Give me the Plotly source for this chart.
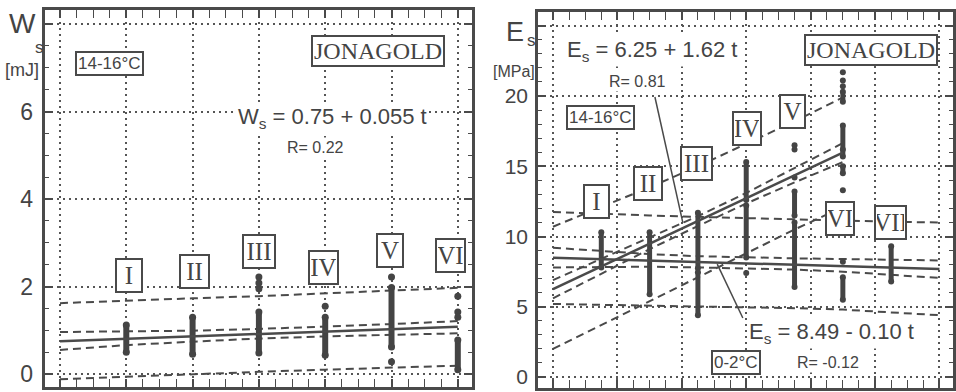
import plotly.graph_objects as go

# ---------------- data ----------------
# storage time (column positions) and roman labels
w_times = [1, 2, 3, 4, 5, 6]
w_labels = ["I", "II", "III", "IV", "V", "VI"]
e_times = [1, 2, 3, 4, 5, 6, 7]
e_labels = ["I", "II", "III", "IV", "V", "VI", "VII"]

# W_s measurements per column: dense ranges (lo, hi) and single points [mJ]
w_ranges = {1: [(0.50, 1.12)], 2: [(0.45, 1.30)], 3: [(0.48, 1.42)],
            4: [(0.43, 1.30)], 5: [(0.62, 1.98)], 6: [(0.10, 0.78)]}
w_points = {1: [], 2: [], 3: [1.95, 2.08, 2.22], 4: [1.55],
            5: [2.22, 0.28], 6: [1.78, 1.42, 1.30]}

# E_s measurements per column (both storage temperatures) [MPa]
e_ranges = {1: [(7.8, 10.3)], 2: [(5.9, 10.3)], 3: [(7.75, 11.7), (4.4, 7.45)],
            4: [(12.6, 15.3), (8.5, 12.2)], 5: [(6.4, 11.0), (11.5, 13.2)],
            6: [(19.6, 20.3), (15.7, 17.9), (14.5, 15.0), (5.5, 7.1)],
            7: [(6.8, 9.3)]}
e_points = {1: [], 2: [], 3: [], 4: [7.4], 5: [14.2, 16.2, 16.5],
            6: [21.7, 21.1, 20.7, 16.2, 13.3, 8.2], 7: []}

# regressions as printed on the chart
w_a, w_b = 0.75, 0.055            # W_s = 0.75 + 0.055 t, 14-16 C
e_hot_a, e_hot_b = 6.25, 1.62     # E_s = 6.25 + 1.62 t, 14-16 C
e_cold_a, e_cold_b = 8.49, -0.10  # E_s = 8.49 - 0.10 t, 0-2 C

# confidence (ci) and prediction (pi) bands
band_t_w = [0, 1, 2, 3, 4, 5, 6]
w_ci_hi = [0.96, 0.97, 0.99, 1.03, 1.08, 1.14, 1.21]
w_ci_lo = [0.55, 0.66, 0.74, 0.81, 0.86, 0.90, 0.93]
w_pi_hi = [1.62, 1.68, 1.73, 1.78, 1.84, 1.90, 1.97]
w_pi_lo = [-0.12, -0.06, 0.00, 0.05, 0.10, 0.15, 0.19]

band_t_hot = [0, 1, 2, 3, 4, 5, 6]
hot_ci_hi = [6.9, 8.4, 9.9, 11.45, 13.1, 14.85, 16.65]
hot_ci_lo = [5.6, 7.35, 9.1, 10.75, 12.35, 13.85, 15.3]
hot_pi_hi = [10.7, 12.1, 13.5, 15.0, 16.6, 18.2, 19.9]
hot_pi_lo = [2.0, 3.7, 5.4, 7.1, 8.8, 10.5, 12.1]

band_t_cold = [0, 1, 2, 3, 4, 5, 6, 7, 8]
cold_ci_hi = [9.2, 8.95, 8.75, 8.6, 8.5, 8.45, 8.4, 8.35, 8.3]
cold_ci_lo = [7.8, 7.85, 7.85, 7.8, 7.75, 7.65, 7.5, 7.3, 7.05]
cold_pi_hi = [11.75, 11.6, 11.5, 11.4, 11.3, 11.2, 11.1, 11.05, 11.0]
cold_pi_lo = [5.2, 5.15, 5.1, 5.05, 5.0, 4.9, 4.8, 4.6, 4.4]

# axis ticks
w_grid = [0, 2, 4, 6, 8]
w_tick_labels = [0, 2, 4, 6]
e_grid = [0, 5, 10, 15, 20, 25]
e_tick_labels = [0, 5, 10, 15, 20]

# ---------------- style ----------------
INK = "#444444"
LINE = "#4a4a4a"
SANS = "Liberation Sans, Arial, sans-serif"
SERIF = "Liberation Serif, Times New Roman, serif"
DASH = "8px,5px"

fig = go.Figure()


def add_columns(ranges, points, xa, ya, width):
    xs, ys = [], []
    for t, segs in ranges.items():
        for lo, hi in segs:
            xs += [t, t, None]
            ys += [lo, hi, None]
    fig.add_trace(go.Scatter(x=xs, y=ys, mode="lines+markers", xaxis=xa, yaxis=ya,
                             line=dict(color=INK, width=width),
                             marker=dict(color=INK, size=width + 1),
                             hoverinfo="skip", showlegend=False))
    px, py = [], []
    for t, vals in points.items():
        for v in vals:
            px.append(t)
            py.append(v)
    fig.add_trace(go.Scatter(x=px, y=py, mode="markers", xaxis=xa, yaxis=ya,
                             marker=dict(color=INK, size=width + 1),
                             hoverinfo="skip", showlegend=False))


def add_line(x, y, xa, ya, dash=None, width=2.5):
    fig.add_trace(go.Scatter(x=x, y=y, mode="lines", xaxis=xa, yaxis=ya,
                             line=dict(color=LINE, width=width, dash=dash),
                             hoverinfo="skip", showlegend=False))


# left panel: W_s
for band in (w_ci_hi, w_ci_lo, w_pi_hi, w_pi_lo):
    add_line(band_t_w, band, "x", "y", dash=DASH, width=2)
add_columns(w_ranges, w_points, "x", "y", 6)
add_line([0, 6], [w_a + w_b * 0, w_a + w_b * 6], "x", "y", width=2.5)

# right panel: E_s
for band in (hot_ci_hi, hot_ci_lo, hot_pi_hi, hot_pi_lo):
    add_line(band_t_hot, band, "x2", "y2", dash=DASH, width=2)
for band in (cold_ci_hi, cold_ci_lo, cold_pi_hi, cold_pi_lo):
    add_line(band_t_cold, band, "x2", "y2", dash=DASH, width=2)
add_columns(e_ranges, e_points, "x2", "y2", 5)
add_line([0, 6], [e_hot_a, e_hot_a + e_hot_b * 6], "x2", "y2", width=2.5)
add_line([0, 8], [e_cold_a, e_cold_a + e_cold_b * 8], "x2", "y2", width=2.5)

# ---------------- axes ----------------
W, H = 956, 392


def xdom(a, b):
    return [a / W, b / W]


def ydom(bottom, top):
    return [(H - bottom) / H, (H - top) / H]


common = dict(showline=True, linewidth=2.5, linecolor=LINE, mirror="allticks",
              ticks="inside", tickcolor=LINE, tickwidth=1.5, ticklen=8,
              showgrid=True, gridcolor="#555555", gridwidth=1.5, griddash="2px,4px",
              zeroline=False, fixedrange=True, showticklabels=False)
minor_x = dict(ticks="inside", ticklen=4, tickcolor=LINE, tickwidth=1.2)

w_yrange = [-0.297, 8.32]
e_yrange = [-0.78, 25.98]

fig.update_layout(
    width=W, height=H, margin=dict(l=0, r=0, t=0, b=0),
    paper_bgcolor="white", plot_bgcolor="white",
    xaxis=dict(domain=xdom(45, 472), range=[-0.226, 6.214], tickmode="linear",
               tick0=0, dtick=1, minor=dict(dtick=0.25, **minor_x),
               anchor="y", **common),
    yaxis=dict(domain=ydom(387, 10), range=w_yrange, tickmode="array",
               tickvals=w_grid, minor=dict(dtick=0.5, **minor_x),
               anchor="x", **common),
    # label-only axis for the W_s scale
    yaxis3=dict(domain=ydom(387, 10), range=w_yrange, overlaying="y", anchor="x",
                tickmode="array", tickvals=w_tick_labels, ticks="", showgrid=False,
                showline=False, zeroline=False, fixedrange=True,
                tickfont=dict(family=SANS, size=23, color=INK), ticklabelstandoff=11),
    xaxis2=dict(domain=xdom(538, 953), range=[-0.31, 8.28], tickmode="linear",
                tick0=0, dtick=4 / 3, minor=dict(dtick=1 / 3, **minor_x),
                anchor="y2", **common),
    yaxis2=dict(domain=ydom(388, 12), range=e_yrange, tickmode="array",
                tickvals=e_grid, minor=dict(dtick=1, **minor_x),
                anchor="x2", **common),
    # label-only axis for the E_s scale
    yaxis4=dict(domain=ydom(388, 12), range=e_yrange, overlaying="y2", anchor="x2",
                tickmode="array", tickvals=e_tick_labels, ticks="", showgrid=False,
                showline=False, zeroline=False, fixedrange=True,
                tickfont=dict(family=SANS, size=21, color=INK), ticklabelstandoff=9),
)
# invisible anchor traces so the label axes are drawn
fig.add_trace(go.Scatter(x=[None], y=[None], xaxis="x", yaxis="y3", showlegend=False,
                         hoverinfo="skip"))
fig.add_trace(go.Scatter(x=[None], y=[None], xaxis="x2", yaxis="y4", showlegend=False,
                         hoverinfo="skip"))

# ---------------- text ----------------
ann = []


def text(x, y, s, xa, ya, size, family=SANS, xanchor="center", box=False,
         bg=None, w=None, h=None):
    d = dict(x=x, y=y, xref=xa, yref=ya, text=s, showarrow=False, xanchor=xanchor,
             yanchor="middle", font=dict(family=family, size=size, color=INK))
    if box:
        d.update(bordercolor=LINE, borderwidth=2, borderpad=1, bgcolor="white")
    elif bg:
        d.update(bgcolor=bg)
    if w:
        d["width"] = w
    if h:
        d["height"] = h
    ann.append(d)


# axis titles
text(22 / W, (H - 24) / H, "W", "paper", "paper", 28)
text(39 / W, (H - 47) / H, "s", "paper", "paper", 17)
text(22 / W, (H - 70) / H, "[mJ]", "paper", "paper", 18)
text(515 / W, (H - 32) / H, "E", "paper", "paper", 27)
text(531 / W, (H - 41) / H, "s", "paper", "paper", 17)
text(514 / W, (H - 71) / H, "[MPa]", "paper", "paper", 16)

# left panel labels
text(0.74, 7.09, "14-16°C", "x", "y", 17, box=True)
text(4.80, 7.38, "JONAGOLD", "x", "y", 24, family=SERIF, box=True)
text(2.66, 5.85, "W<sub>s</sub> = 0.75 + 0.055 t", "x", "y", 22, xanchor="left", bg="white")
text(3.86, 5.17, "R= 0.22", "x", "y", 16, bg="white")
w_label_pos = [(1.04, 2.26), (2.03, 2.34), (3.0, 2.8), (3.98, 2.43), (4.98, 2.83), (5.89, 2.71)]
for lab, (tx, ty) in zip(w_labels, w_label_pos):
    text(tx, ty, lab, "x", "y", 25, family=SERIF, box=True, w=22 + 3 * (len(lab) - 1), h=29)

# right panel labels
text(0.25, 23.2, "E<sub>s</sub> = 6.25 + 1.62 t", "x2", "y2", 22, xanchor="left", bg="white")
text(1.74, 21.0, "R= 0.81", "x2", "y2", 16, bg="white")
text(6.58, 23.27, "JONAGOLD", "x2", "y2", 24, family=SERIF, box=True)
text(0.99, 18.5, "14-16°C", "x2", "y2", 17, box=True)
text(4.02, 3.13, "E<sub>s</sub> = 8.49 - 0.10 t", "x2", "y2", 22, xanchor="left", bg="white")
text(3.79, 1.0, "0-2°C", "x2", "y2", 17, box=True)
text(5.01, 1.07, "R= -0.12", "x2", "y2", 16, xanchor="left", bg="white")
e_label_pos = [(0.91, 12.5), (1.97, 13.8), (2.98, 15.2), (4.02, 17.7), (4.95, 18.9),
               (5.94, 11.25), (6.98, 11.0)]
for lab, (tx, ty) in zip(e_labels, e_label_pos):
    text(tx, ty, lab, "x2", "y2", 25, family=SERIF, box=True, w=21 + 3 * (len(lab) - 1), h=29)

fig.update_layout(annotations=ann)

# leader lines from the equations to their regression lines
fig.add_shape(type="line", xref="x2", yref="y2", x0=2.11, y0=19.93, x1=2.69, y1=10.96,
              line=dict(color=LINE, width=1.5))
fig.add_shape(type="line", xref="x2", yref="y2", x0=3.40, y0=8.04, x1=3.93, y1=4.2,
              line=dict(color=LINE, width=1.5))

fig.write_html("out.html")
